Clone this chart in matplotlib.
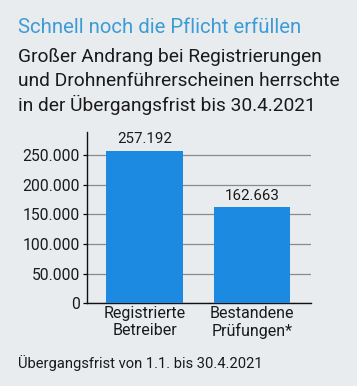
import matplotlib
matplotlib.use("Agg")
import matplotlib.pyplot as plt
from matplotlib.ticker import FuncFormatter

categories = ["Registrierte\nBetreiber", "Bestandene\nPrüfungen*"]
values = [257192, 162663]
value_labels = ["257.192", "162.663"]
yticks = [0, 50000, 100000, 150000, 200000, 250000]

title = "Schnell noch die Pflicht erfüllen"
subtitle = ["Großer Andrang bei Registrierungen",
            "und Drohnenführerscheinen herrschte",
            "in der Übergangsfrist bis 30.4.2021"]
footer = "Übergangsfrist von 1.1. bis 30.4.2021"

BG = "#e9ecef"
BAR = "#1b8ae0"
BLUE = "#3d9bd6"
TXT = "#1a1a1a"
FONT = ["Roboto", "DejaVu Sans"]
plt.rcParams["font.family"] = FONT

W, H = 357, 386
fig = plt.figure(figsize=(W / 100, H / 100), dpi=100, facecolor=BG)
renderer = fig.canvas.get_renderer()

def fy(py):
    return 1 - py / H

def fit(t, target_px, size):
    # scale font size so that the text spans target_px pixels
    t.set_fontsize(size)
    w = t.get_window_extent(renderer).width
    t.set_fontsize(size * target_px / w)
    return size * target_px / w

t = fig.text(18 / W, fy(33), title, color=BLUE, va="baseline", ha="left")
fit(t, 286, 14)
subs = []
for i, line in enumerate(subtitle):
    subs.append(fig.text(18 / W, fy(62 + 24.5 * i), line, color=TXT,
                         va="baseline", ha="left"))
s = fit(subs[1], 323, 14)
for st in subs:
    st.set_fontsize(s)
f = fig.text(18 / W, fy(368), footer, color=TXT, va="baseline", ha="left")
fit(f, 245, 11)

ax = fig.add_axes([87 / W, fy(303.3), (311 - 87) / W, (303.3 - 132) / H])
ax.set_facecolor(BG)
x = list(range(len(values)))
ax.bar(x, values, width=0.715, color=BAR, zorder=3)
ax.set_xlim(-0.535, 1.549)
ax.set_ylim(0, 288500)
ax.set_yticks(yticks)
ax.yaxis.set_major_formatter(FuncFormatter(lambda v, p: f"{int(v):,}".replace(",", ".")))
ax.grid(axis="y", color="#8a8a8a", linewidth=0.9, zorder=1)
ax.set_xticks(x)
ax.set_xticklabels(categories, fontsize=11.5, linespacing=1.15, color=TXT)
ax.tick_params(axis="x", length=0, pad=2)
ax.tick_params(axis="y", length=3, width=0.9, labelsize=11.3, pad=2, labelcolor=TXT)
for sp in ["top", "right"]:
    ax.spines[sp].set_visible(False)
for sp in ["left", "bottom"]:
    ax.spines[sp].set_linewidth(1.0)
    ax.spines[sp].set_color("#111111")
for xi, v, lab in zip(x, values, value_labels):
    ax.annotate(lab, (xi, v), xytext=(0, 3), textcoords="offset points",
                ha="center", va="bottom", fontsize=10.8, color=TXT)

fig.savefig("out.png", dpi=100, facecolor=BG)
